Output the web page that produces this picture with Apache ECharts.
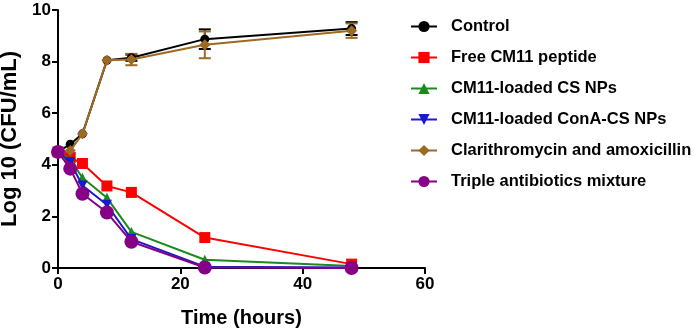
<!DOCTYPE html>
<html>
<head>
<meta charset="utf-8">
<script src="https://cdn.jsdelivr.net/npm/echarts@6/dist/echarts.min.js"></script>
<style>
  html, body { margin: 0; padding: 0; background: #fff; }
  #chart { width: 694px; height: 330px; }
</style>
</head>
<body>
<div id="chart"></div>
<script>
// time points (hours)
const times = [0, 2, 4, 8, 12, 24, 48]

// log10 CFU/mL for each group
const control = [4.5, 4.8, 5.2, 8.05, 8.15, 8.87, 9.28]
const freeCM11 = [4.5, 4.28, 4.05, 3.18, 2.93, 1.18, 0.15]
const csNPs = [4.5, 4.2, 3.5, 2.72, 1.4, 0.32, 0.08]
const conaNPs = [4.5, 4.1, 3.2, 2.45, 1.12, 0.05, 0.02]
const clariAmox = [4.5, 4.55, 5.2, 8.05, 8.08, 8.65, 9.2]
const triple = [4.5, 3.85, 2.88, 2.15, 1.02, 0.02, 0.0]

// error bar half-widths (SD), 0 where no bar is drawn
const controlErr = [0, 0, 0, 0, 0.12, 0.38, 0.25]
const clariAmoxErr = [0, 0, 0, 0, 0.22, 0.52, 0.28]

const names = [
  'Control',
  'Free CM11 peptide',
  'CM11-loaded CS NPs',
  'CM11-loaded ConA-CS NPs',
  'Clarithromycin and amoxicillin',
  'Triple antibiotics mixture',
]
const colors = ['#000000', '#ff0000', '#1b8a1b', '#1a1acc', '#9c6a22', '#850085']
const values = [control, freeCM11, csNPs, conaNPs, clariAmox, triple]
const symbols = ['circle', 'rect', 'triangle', 'triangle', 'diamond', 'circle']
const symbolSizes = [9, 11, 10, 10, 11, 14]

const pairs = arr => times.map((t, i) => [t, arr[i]])

// error bars as custom series
function errorSeries(vals, errs, color) {
  const data = []
  times.forEach((t, i) => {
    if (errs[i] > 0) data.push([t, vals[i] - errs[i], vals[i] + errs[i]])
  })
  return {
    type: 'custom',
    silent: true,
    z: 3,
    renderItem: function (params, api) {
      const lo = api.coord([api.value(0), api.value(1)])
      const hi = api.coord([api.value(0), api.value(2)])
      const w = 6
      const style = { stroke: color, lineWidth: 2 }
      return {
        type: 'group',
        children: [
          { type: 'line', shape: { x1: lo[0], y1: lo[1], x2: hi[0], y2: hi[1] }, style },
          { type: 'line', shape: { x1: lo[0] - w, y1: lo[1], x2: lo[0] + w, y2: lo[1] }, style },
          { type: 'line', shape: { x1: hi[0] - w, y1: hi[1], x2: hi[0] + w, y2: hi[1] }, style },
        ],
      }
    },
    data: data,
  }
}

const lineSeries = names.map((name, i) => ({
  name: name,
  type: 'line',
  data: pairs(values[i]),
  symbol: symbols[i],
  symbolSize: symbolSizes[i],
  symbolRotate: i === 3 ? 180 : 0,
  showAllSymbol: true,
  lineStyle: { color: colors[i], width: 2 },
  itemStyle: { color: colors[i] },
  z: 4 + i,
  animation: false,
}))

const font = 'Liberation Sans, Arial'

const chart = echarts.init(document.getElementById('chart'))
chart.setOption({
  animation: false,
  backgroundColor: '#fff',
  grid: { left: 58, top: 10, right: 269, bottom: 62, containLabel: false, outerBoundsMode: 'none' },
  legend: {
    data: names,
    orient: 'vertical',
    left: 405,
    top: 13,
    itemWidth: 26,
    itemHeight: 14,
    itemGap: 14,
    textStyle: { fontFamily: font, fontSize: 16.5, lineHeight: 16, color: '#000', fontWeight: 'bold', padding: [0, 0, 0, 9] },
  },
  xAxis: {
    type: 'value',
    min: 0,
    max: 60,
    interval: 20,
    name: 'Time (hours)',
    nameLocation: 'middle',
    nameGap: 40,
    nameTextStyle: { fontFamily: font, fontSize: 20, fontWeight: 'bold', color: '#000' },
    axisLine: { lineStyle: { color: '#000', width: 2 } },
    axisTick: { lineStyle: { color: '#000', width: 2 }, length: 6 },
    axisLabel: { fontFamily: font, fontSize: 17, fontWeight: 'bold', color: '#000', margin: 8 },
    splitLine: { show: false },
  },
  yAxis: {
    type: 'value',
    min: 0,
    max: 10,
    interval: 2,
    name: 'Log 10 (CFU/mL)',
    nameLocation: 'middle',
    nameGap: 34,
    nameTextStyle: { fontFamily: font, fontSize: 22, fontWeight: 'bold', color: '#000' },
    axisLine: { show: true, lineStyle: { color: '#000', width: 2 } },
    axisTick: { show: true, lineStyle: { color: '#000', width: 2 }, length: 6 },
    axisLabel: { fontFamily: font, fontSize: 17, fontWeight: 'bold', color: '#000', margin: 7 },
    splitLine: { show: false },
  },
  series: lineSeries.concat([
    errorSeries(control, controlErr, colors[0]),
    errorSeries(clariAmox, clariAmoxErr, colors[4]),
  ]),
})
</script>
</body>
</html>
